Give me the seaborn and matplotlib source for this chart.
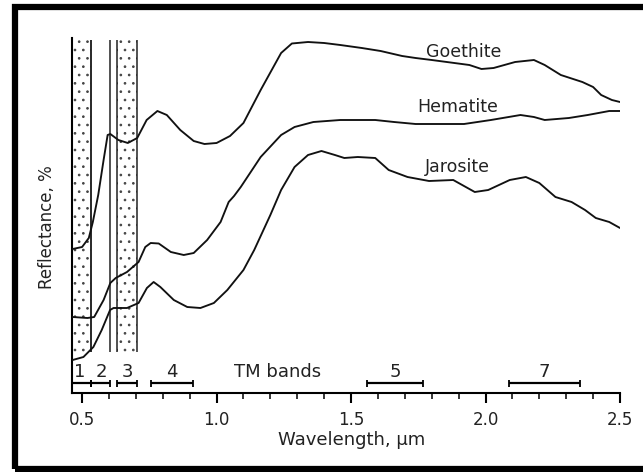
import numpy as np
import pandas as pd
import matplotlib
matplotlib.use("Agg")
import matplotlib.pyplot as plt
import seaborn as sns
from matplotlib.patches import Rectangle
from matplotlib.ticker import MultipleLocator

# ---- data (reflectance in arbitrary units) ----
goethite_wl = [0.465, 0.50, 0.525, 0.54, 0.56, 0.58, 0.595, 0.605, 0.635, 0.67, 0.705,
               0.74, 0.78, 0.815, 0.865, 0.915, 0.955, 1.0, 1.05, 1.10, 1.164, 1.24,
               1.28, 1.34, 1.40, 1.46, 1.54, 1.61, 1.69, 1.74, 1.80, 1.94, 1.985, 2.03,
               2.11, 2.18, 2.22, 2.28, 2.36, 2.40, 2.43, 2.47, 2.5]
goethite_r = [144, 146, 155, 171, 198, 233, 258, 259, 253, 250, 255,
              273, 282, 278, 263, 252, 249, 250, 257, 270, 303, 340,
              349.5, 351, 350, 348, 345, 342, 337, 335, 333, 328, 324, 325,
              331, 333, 328, 318, 311, 306, 298, 293, 291]

hematite_wl = [0.465, 0.52, 0.545, 0.58, 0.605, 0.625, 0.667, 0.71, 0.735, 0.755, 0.785,
               0.83, 0.878, 0.915, 0.965, 1.015, 1.045, 1.065, 1.09, 1.164, 1.24, 1.29,
               1.36, 1.46, 1.59, 1.66, 1.74, 1.80, 1.92, 2.02, 2.13, 2.18, 2.22, 2.31,
               2.38, 2.46, 2.5]
hematite_r = [76, 75, 76, 93, 110, 115, 121, 131, 146, 150, 149.5,
              141, 138, 140, 153, 171, 191, 197, 206, 236, 258, 266,
              271, 273, 273, 271, 269, 269, 269, 273, 278, 276, 273, 275,
              278, 282, 282]

jarosite_wl = [0.465, 0.505, 0.542, 0.573, 0.604, 0.617, 0.667, 0.71, 0.741, 0.766, 0.791,
               0.841, 0.891, 0.94, 0.99, 1.04, 1.10, 1.14, 1.20, 1.24, 1.29, 1.34,
               1.39, 1.44, 1.475, 1.525, 1.59, 1.64, 1.71, 1.79, 1.88, 1.96, 2.01, 2.09,
               2.15, 2.20, 2.26, 2.32, 2.37, 2.41, 2.46, 2.5]
jarosite_r = [33, 36, 46, 63, 83, 85, 85, 90, 105, 111, 106,
              93, 86, 85, 90, 103, 123, 143, 178, 203, 226, 238,
              242, 238, 235, 236, 235, 223, 216, 212, 213, 201, 203, 213,
              216, 210, 196, 191, 183, 175, 171, 165]

minerals = ["Goethite", "Hematite", "Jarosite"]
label_wl = [1.918, 1.895, 1.895]
label_r = [341, 286, 226]

# TM bands as drawn in the figure (µm)
band_names = ["1", "2", "3", "4", "5", "7"]
band_lo = [0.45, 0.535, 0.63, 0.757, 1.56, 2.088]
band_hi = [0.535, 0.605, 0.705, 0.912, 1.766, 2.35]
band_column = [True, True, True, False, False, False]   # drawn as vertical columns
band_stipple = [True, False, True, False, False, False]

tick_vals = [0.5, 1.0, 1.5, 2.0, 2.5]
tick_labels = ["0.5", "1.0", "1.5", "2.0", "2.5"]

# ---- figure ----
sns.set_theme(style="white")
plt.rcParams["font.family"] = ["DejaVu Sans"]
plt.rcParams["hatch.linewidth"] = 0.7
plt.rcParams["hatch.color"] = "black"

W, H = 643, 472
fig = plt.figure(figsize=(W / 100, H / 100), dpi=100)
ax = fig.add_axes([72.4 / W, 79 / H, 547.6 / W, 355 / H])

df = pd.concat([
    pd.DataFrame({"Wavelength": goethite_wl, "Reflectance": goethite_r, "Mineral": "Goethite"}),
    pd.DataFrame({"Wavelength": hematite_wl, "Reflectance": hematite_r, "Mineral": "Hematite"}),
    pd.DataFrame({"Wavelength": jarosite_wl, "Reflectance": jarosite_r, "Mineral": "Jarosite"}),
], ignore_index=True)

sns.lineplot(data=df, x="Wavelength", y="Reflectance", hue="Mineral",
             palette={m: "#111111" for m in minerals}, estimator=None, sort=False,
             linewidth=1.35, legend=False, ax=ax, zorder=3)

col_bottom, col_top = 41, 353
for lo, hi, col, stip in zip(band_lo, band_hi, band_column, band_stipple):
    if not col:
        continue
    if stip:
        ax.add_patch(Rectangle((lo, col_bottom), hi - lo, col_top - col_bottom,
                               fill=False, hatch="..", edgecolor="#444444",
                               linewidth=0, zorder=1))
    ax.vlines([lo, hi], col_bottom, col_top, color="#222222", linewidth=1.1, zorder=2)

# TM band bars along the bottom
bar_y, cap = 10, 3.5
for name, lo, hi in zip(band_names, band_lo, band_hi):
    ax.hlines(bar_y, lo, hi, color="black", linewidth=1.6, zorder=2)
    ax.vlines([lo, hi], bar_y - cap, bar_y + cap, color="black", linewidth=1.3, zorder=2)
    ax.text((lo + hi) / 2, 21, name, ha="center", va="center", fontsize=13, color="#222222")
ax.text(1.226, 21, "TM bands", ha="center", va="center", fontsize=13, color="#222222")

for m, xw, yr in zip(minerals, label_wl, label_r):
    ax.text(xw, yr, m, ha="center", va="center", fontsize=12.5, color="#222222")

ax.set_xlim(0.464, 2.5)
ax.set_ylim(0, 355)
ax.set_xticks(tick_vals, tick_labels)
ax.xaxis.set_minor_locator(MultipleLocator(0.1))
ax.set_yticks([])
ax.tick_params(axis="x", which="major", direction="out", length=7, width=1.5,
               pad=6, labelsize=12, colors="black", bottom=True)
ax.tick_params(axis="x", which="minor", direction="out", length=4, width=1.3, bottom=True)
ax.tick_params(axis="x", labelcolor="#222222")

for s in ["top", "right"]:
    ax.spines[s].set_visible(False)
for s in ["left", "bottom"]:
    ax.spines[s].set_color("black")
    ax.spines[s].set_linewidth(1.5)

ax.set_xlabel("Wavelength, µm", fontsize=13, color="#222222")
ax.xaxis.set_label_coords((352 - 72.4) / 547.6, (393 - 431) / 355)
ax.set_ylabel("Reflectance, %", fontsize=12, color="#222222")
ax.yaxis.set_label_coords((56 - 72.4) / 547.6, (393 - 227) / 355)

# outer frame of the scanned figure
fig.patches.append(Rectangle((15 / W, 3.5 / H), 1.2, (469 - 7.5) / H,
                             transform=fig.transFigure, fill=False,
                             edgecolor="black", linewidth=4.5, clip_on=False))

fig.savefig("out.png", dpi=100)
